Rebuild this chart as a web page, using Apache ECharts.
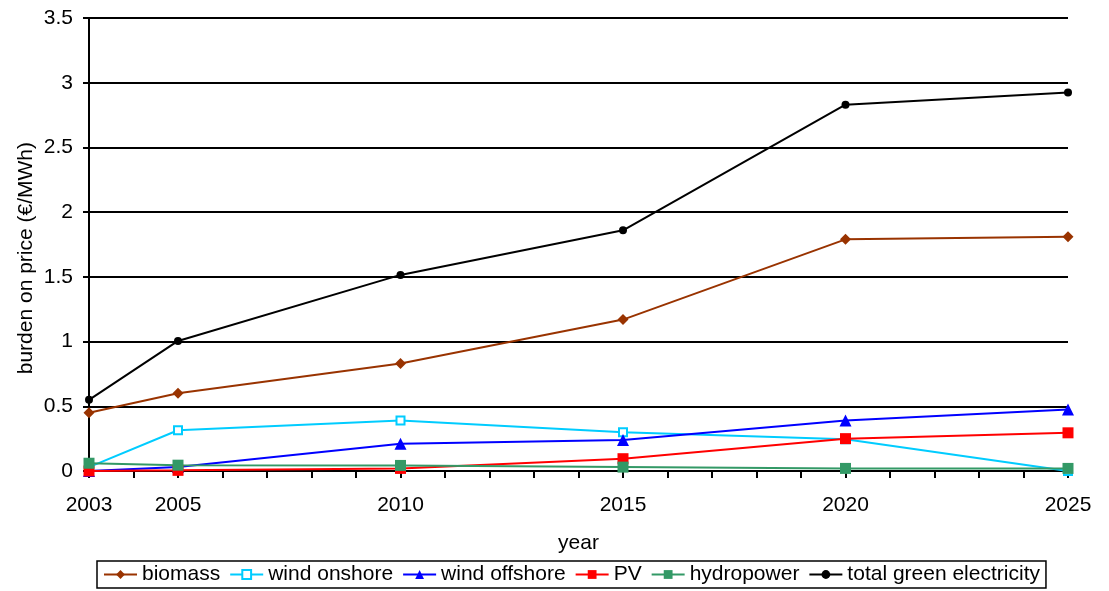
<!DOCTYPE html>
<html>
<head>
<meta charset="utf-8">
<script src="https://cdn.jsdelivr.net/npm/echarts@6/dist/echarts.min.js"></script>
<style>
  html, body { margin: 0; padding: 0; background: #fff; }
  #chart { width: 1109px; height: 591px; }
</style>
</head>
<body>
<div id="chart"></div>
<script>
// Years with data points
var years = [2003, 2005, 2010, 2015, 2020, 2025];
// Burden on price per source (€/MWh)
var biomass      = [0.45, 0.60, 0.83, 1.17, 1.79, 1.81];
var windOnshore  = [0.03, 0.315, 0.39, 0.30, 0.245, 0.0];
var windOffshore = [0.0, 0.03, 0.21, 0.24, 0.39, 0.475];
var pv           = [0.0, 0.005, 0.02, 0.095, 0.25, 0.295];
var hydropower   = [0.06, 0.045, 0.043, 0.03, 0.02, 0.02];
var totalGreen   = [0.55, 1.005, 1.515, 1.86, 2.83, 2.925];
// Years that carry a tick label on the x axis
var yearLabels = [2003, 2005, 2010, 2015, 2020, 2025];

function pairs(vals) {
  return years.map(function (y, i) { return [y, vals[i]]; });
}

var FONT = '"Liberation Sans", Arial, sans-serif';
var FS = 21;

function line(name, vals, color, symbol, size, extra) {
  var s = {
    name: name,
    type: 'line',
    data: pairs(vals),
    symbol: symbol,
    symbolSize: size,
    showAllSymbol: true,
    lineStyle: { color: color, width: 2 },
    itemStyle: { color: color },
    animation: false
  };
  if (extra) { for (var k in extra) s[k] = extra[k]; }
  return s;
}

var chart = echarts.init(document.getElementById('chart'));
chart.setOption({
  backgroundColor: '#fff',
  textStyle: { fontFamily: FONT },
  grid: { left: 89, right: 41, top: 18, bottom: 120 },
  graphic: [{
    type: 'text',
    left: 16,
    top: 142,
    rotation: Math.PI / 2,
    style: {
      text: 'burden on price (€/MWh)',
      fill: '#000',
      font: FS + 'px ' + FONT
    },
    silent: true
  }],
  xAxis: {
    type: 'value',
    min: 2003,
    max: 2025,
    interval: 1,
    name: 'year',
    nameLocation: 'middle',
    nameGap: 62,
    nameTextStyle: { color: '#000', fontSize: FS, fontFamily: FONT },
    axisLine: { show: true, lineStyle: { color: '#000', width: 2 } },
    axisTick: { show: true, inside: false, length: 7, lineStyle: { color: '#000', width: 2 } },
    splitLine: { show: false },
    axisLabel: {
      color: '#000',
      fontSize: FS,
      fontFamily: FONT,
      margin: 24,
      hideOverlap: false,
      formatter: function (v) {
        return yearLabels.indexOf(v) >= 0 ? String(v) : '';
      }
    }
  },
  yAxis: {
    type: 'value',
    min: 0,
    max: 3.5,
    interval: 0.5,
    axisLine: { show: true, lineStyle: { color: '#000', width: 2 } },
    axisTick: { show: true, inside: false, length: 6, lineStyle: { color: '#000', width: 2 } },
    splitLine: { show: true, lineStyle: { color: '#000', width: 2 } },
    axisLabel: { color: '#000', fontSize: FS, fontFamily: FONT, margin: 16 }
  },
  legend: {
    left: 97,
    top: 561,
    orient: 'horizontal',
    borderColor: '#000',
    borderWidth: 1.5,
    padding: [3, 6, 3, 6],
    itemWidth: 33,
    itemHeight: 11,
    itemGap: 9,
    textStyle: { color: '#000', fontSize: FS, fontFamily: FONT },
    data: ['biomass', 'wind onshore', 'wind offshore', 'PV', 'hydropower', 'total green electricity']
  },
  series: [
    line('biomass', biomass, '#993300', 'diamond', 11),
    line('wind onshore', windOnshore, '#00CCFF', 'emptyRect', 8, {
      itemStyle: { color: '#00CCFF', borderColor: '#00CCFF', borderWidth: 2 }
    }),
    line('wind offshore', windOffshore, '#0000FF', 'triangle', 12),
    line('PV', pv, '#FF0000', 'rect', 11),
    line('hydropower', hydropower, '#339966', 'rect', 11),
    line('total green electricity', totalGreen, '#000000', 'circle', 8)
  ]
});
</script>
</body>
</html>
